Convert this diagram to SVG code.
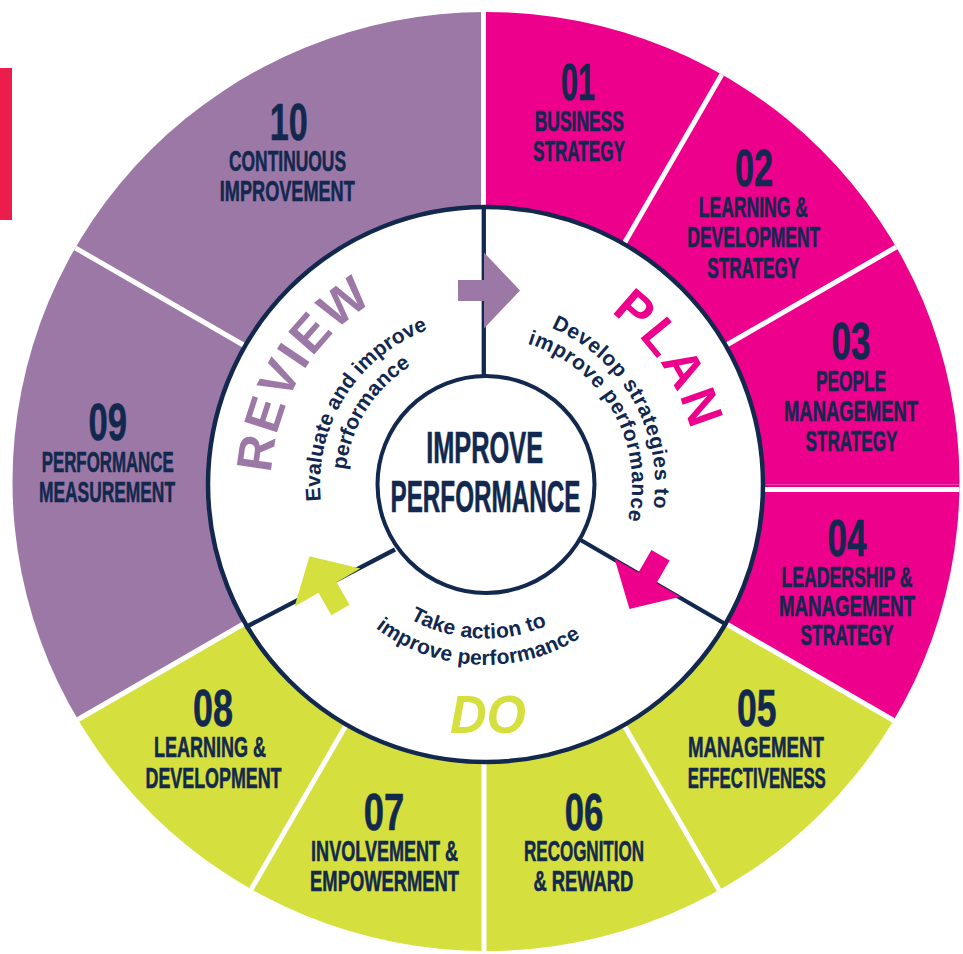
<svg xmlns="http://www.w3.org/2000/svg" width="963" height="954" viewBox="0 0 963 954">
<style>
.lab{font-family:"Liberation Sans Narrow","Liberation Sans",Arial,sans-serif;font-weight:bold;fill:#12284E;stroke:#12284E;stroke-width:0.6;text-anchor:middle}
.num{font-size:52px}
.lbl{font-size:30px}
.ctr{font-size:44px}
.wedge{clip-path:url(#wheel)}
.pk{fill:#EC008C}.pu{fill:#9C78A6}.yl{fill:#D5DF3D}
.sep{stroke:#FFFFFF;stroke-width:5;fill:none}
.nv{stroke:#12284E;stroke-width:4.3;fill:none}
.ttl{font-family:"Liberation Sans",Arial,sans-serif;font-weight:bold;font-size:50px}
.sub{font-family:"Liberation Sans",Arial,sans-serif;font-weight:bold;font-size:21px;fill:#12284E}
</style>
<defs>
<clipPath id="wheel"><ellipse cx="486" cy="481.5" rx="473.5" ry="469.5"/></clipPath>
<path id="arrow" d="M-26 -10.5H0V-38L36 0L0 38V10.5H-26Z"/>
<path id="pReview" d="M318.7 619.2A214 214 0 0 1 525.8 274.4"/>
<path id="pPlan" d="M433.5 277.8A213 213 0 0 1 657.3 609.7"/>
<path id="pRev1" d="M355 586.1A165 165 0 0 1 519.3 323.1"/>
<path id="pRev2" d="M374.7 570.7A140 140 0 0 1 514.1 347.6"/>
<path id="pPlan1" d="M456.9 316.8A170 170 0 0 1 614.3 594.9"/>
<path id="pPlan2" d="M460.7 339.5A147 147 0 0 1 596.8 580"/>
<path id="pDo1" d="M338 530.3A154 154 0 0 0 627.1 543.9"/>
<path id="pDo2" d="M312.8 538.5A180.5 180.5 0 0 0 651.6 553.9"/>
</defs>

<rect id="redbar" x="0" y="68" width="12" height="152" fill="#EC1C4B"/>

<g id="seg01">
<polygon class="wedge pk" points="485,484.5 485,-215.5 835,-121.7"/>
<text class="lab num" x="578" y="100" textLength="34" lengthAdjust="spacingAndGlyphs">01</text>
<text class="lab lbl" x="579.3" y="131" textLength="89" lengthAdjust="spacingAndGlyphs">BUSINESS</text>
<text class="lab lbl" x="579" y="161" textLength="92" lengthAdjust="spacingAndGlyphs">STRATEGY</text>
</g>
<g id="seg02">
<polygon class="wedge pk" points="485,484.5 835,-121.7 1091.2,134.5"/>
<text class="lab num" x="754" y="186" textLength="38" lengthAdjust="spacingAndGlyphs">02</text>
<text class="lab lbl" x="753.3" y="217" textLength="109" lengthAdjust="spacingAndGlyphs">LEARNING &amp;</text>
<text class="lab lbl" x="753.8" y="247" textLength="133" lengthAdjust="spacingAndGlyphs">DEVELOPMENT</text>
<text class="lab lbl" x="753.3" y="277.5" textLength="92" lengthAdjust="spacingAndGlyphs">STRATEGY</text>
</g>
<g id="seg03">
<polygon class="wedge pk" points="485,484.5 1091.2,134.5 1185,484.5"/>
<text class="lab num" x="851" y="359" textLength="39" lengthAdjust="spacingAndGlyphs">03</text>
<text class="lab lbl" x="851" y="391" textLength="70" lengthAdjust="spacingAndGlyphs">PEOPLE</text>
<text class="lab lbl" x="851" y="421" textLength="134" lengthAdjust="spacingAndGlyphs">MANAGEMENT</text>
<text class="lab lbl" x="851.5" y="451" textLength="92" lengthAdjust="spacingAndGlyphs">STRATEGY</text>
</g>
<g id="seg04">
<polygon class="wedge pk" points="485,484.5 1185,484.5 1091.2,834.5"/>
<text class="lab num" x="847" y="555.5" textLength="39" lengthAdjust="spacingAndGlyphs">04</text>
<text class="lab lbl" x="847" y="587" textLength="131" lengthAdjust="spacingAndGlyphs">LEADERSHIP &amp;</text>
<text class="lab lbl" x="847" y="616" textLength="136" lengthAdjust="spacingAndGlyphs">MANAGEMENT</text>
<text class="lab lbl" x="847" y="645" textLength="93" lengthAdjust="spacingAndGlyphs">STRATEGY</text>
</g>
<g id="seg05">
<polygon class="wedge yl" points="485,484.5 1091.2,834.5 835,1090.7"/>
<text class="lab num" x="756.8" y="726" textLength="39.5" lengthAdjust="spacingAndGlyphs">05</text>
<text class="lab lbl" x="756" y="757" textLength="136" lengthAdjust="spacingAndGlyphs">MANAGEMENT</text>
<text class="lab lbl" x="756.8" y="787.5" textLength="138" lengthAdjust="spacingAndGlyphs">EFFECTIVENESS</text>
</g>
<g id="seg06">
<polygon class="wedge yl" points="485,484.5 835,1090.7 485,1184.5"/>
<text class="lab num" x="584" y="829.5" textLength="38.5" lengthAdjust="spacingAndGlyphs">06</text>
<text class="lab lbl" x="584" y="861" textLength="120" lengthAdjust="spacingAndGlyphs">RECOGNITION</text>
<text class="lab lbl" x="583.4" y="891" textLength="100" lengthAdjust="spacingAndGlyphs">&amp; REWARD</text>
</g>
<g id="seg07">
<polygon class="wedge yl" points="485,484.5 485,1184.5 135,1090.7"/>
<text class="lab num" x="384" y="829.5" textLength="40.5" lengthAdjust="spacingAndGlyphs">07</text>
<text class="lab lbl" x="384.6" y="861.3" textLength="147" lengthAdjust="spacingAndGlyphs">INVOLVEMENT &amp;</text>
<text class="lab lbl" x="384.6" y="891.3" textLength="149" lengthAdjust="spacingAndGlyphs">EMPOWERMENT</text>
</g>
<g id="seg08">
<polygon class="wedge yl" points="485,484.5 135,1090.7 -121.2,834.5"/>
<text class="lab num" x="213" y="725.5" textLength="40" lengthAdjust="spacingAndGlyphs">08</text>
<text class="lab lbl" x="210" y="757" textLength="112" lengthAdjust="spacingAndGlyphs">LEARNING &amp;</text>
<text class="lab lbl" x="213.5" y="788" textLength="136" lengthAdjust="spacingAndGlyphs">DEVELOPMENT</text>
</g>
<g id="seg09">
<polygon class="wedge pu" points="485,484.5 -121.2,834.5 -215,484.5 -121.2,134.5"/>
<text class="lab num" x="107.7" y="439.5" textLength="38.5" lengthAdjust="spacingAndGlyphs">09</text>
<text class="lab lbl" x="107.7" y="471.5" textLength="132" lengthAdjust="spacingAndGlyphs">PERFORMANCE</text>
<text class="lab lbl" x="107" y="501.5" textLength="136" lengthAdjust="spacingAndGlyphs">MEASUREMENT</text>
</g>
<g id="seg10">
<polygon class="wedge pu" points="485,484.5 -121.2,134.5 135,-121.7 485,-215.5"/>
<text class="lab num" x="288.7" y="139.5" textLength="38" lengthAdjust="spacingAndGlyphs">10</text>
<text class="lab lbl" x="287.5" y="170.5" textLength="117" lengthAdjust="spacingAndGlyphs">CONTINUOUS</text>
<text class="lab lbl" x="287.3" y="201" textLength="135" lengthAdjust="spacingAndGlyphs">IMPROVEMENT</text>
</g>

<g id="separators" class="wedge">
<line class="sep" x1="483.5" y1="214.5" x2="483.5" y2="0"/>
<line class="sep" x1="620" y1="250.7" x2="745" y2="34.2"/>
<line class="sep" x1="718.8" y1="349.5" x2="935.3" y2="224.5"/>
<line class="sep" x1="750" y1="489.5" x2="965" y2="489.5"/>
<line class="sep" x1="718.8" y1="619.5" x2="935.3" y2="744.5"/>
<line class="sep" x1="620" y1="718.3" x2="745" y2="934.8"/>
<line class="sep" x1="484" y1="750" x2="484" y2="960"/>
<line class="sep" x1="350" y1="718.3" x2="225" y2="934.8"/>
<line class="sep" x1="251.2" y1="619.5" x2="34.7" y2="744.5"/>
<line class="sep" x1="251.2" y1="349.5" x2="34.7" y2="224.5"/>
</g>

<g id="cycle-ring">
<circle cx="485.5" cy="484.5" r="277.5" fill="#FFFFFF" stroke="#12284E" stroke-width="4.5"/>
</g>

<g id="connectors">
<line class="nv" x1="483.8" y1="206" x2="483.8" y2="377"/>
<line class="nv" x1="578" y1="538.5" x2="727" y2="625"/>
<line class="nv" x1="395" y1="549.5" x2="245" y2="627.5"/>
<use href="#arrow" class="pu" transform="translate(484 290.5)"/>
<use href="#arrow" class="pk" transform="translate(647.5 577.8) rotate(120)"/>
<use href="#arrow" class="yl" transform="translate(327.5 587.5) rotate(-120)"/>
</g>

<g id="review">
<text class="ttl pu" letter-spacing="2"><textPath href="#pReview" startOffset="50%" text-anchor="middle">REVIEW</textPath></text>
<text class="sub"><textPath href="#pRev1" startOffset="50%" text-anchor="middle">Evaluate and improve</textPath></text>
<text class="sub"><textPath href="#pRev2" startOffset="50%" text-anchor="middle">performance</textPath></text>
</g>
<g id="plan">
<text class="ttl pk" letter-spacing="3"><textPath href="#pPlan" startOffset="50%" text-anchor="middle">PLAN</textPath></text>
<text class="sub" letter-spacing="0.5"><textPath href="#pPlan1" startOffset="50%" text-anchor="middle">Develop strategies to</textPath></text>
<text class="sub" letter-spacing="0.5"><textPath href="#pPlan2" startOffset="50%" text-anchor="middle">improve performance</textPath></text>
</g>
<g id="do">
<text x="488" y="733" font-family="Liberation Sans, Arial, sans-serif" font-weight="bold" font-style="italic" font-size="53" fill="#D5DF3D" text-anchor="middle" textLength="76" lengthAdjust="spacingAndGlyphs">DO</text>
<text class="sub" letter-spacing="0.2"><textPath href="#pDo1" startOffset="50%" text-anchor="middle">Take action to</textPath></text>
<text class="sub" letter-spacing="0.2"><textPath href="#pDo2" startOffset="50%" text-anchor="middle">improve performance</textPath></text>
</g>

<g id="center">
<circle cx="486" cy="484.5" r="108.5" fill="#FFFFFF" stroke="#12284E" stroke-width="4"/>
<text class="lab ctr" x="484.7" y="463" textLength="117" lengthAdjust="spacingAndGlyphs">IMPROVE</text>
<text class="lab ctr" x="485.5" y="511.5" textLength="190" lengthAdjust="spacingAndGlyphs">PERFORMANCE</text>
</g>
</svg>
